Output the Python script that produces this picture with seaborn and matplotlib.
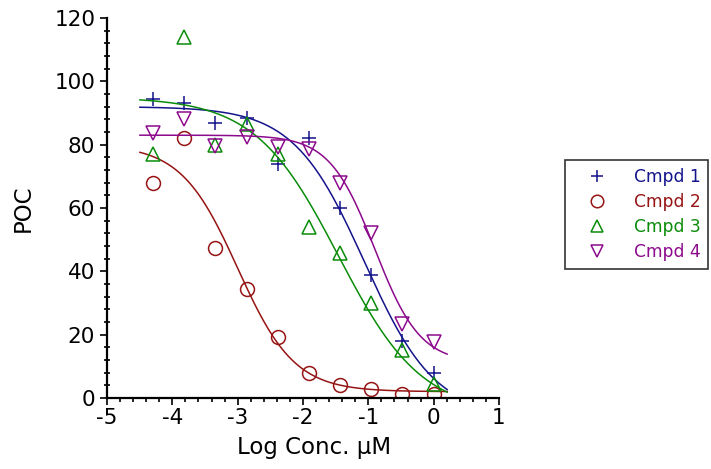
import numpy as np
import matplotlib
matplotlib.use("Agg")
import matplotlib.pyplot as plt
from matplotlib.lines import Line2D
import seaborn as sns

# log concentration (uM) of each dose
log_conc = [-4.294, -3.817, -3.340, -2.863, -2.386, -1.908, -1.431, -0.954, -0.477, 0.0]

# percent of control
cmpd1 = [94.4, 93.1, 86.8, 88.4, 73.9, 82.1, 60.0, 38.8, 18.0, 7.9]
cmpd2 = [67.9, 82.1, 47.4, 34.4, 19.3, 7.9, 4.1, 2.8, 1.3, 1.3]
cmpd3 = [77.2, 114.0, 80.0, 86.5, 77.2, 54.0, 45.8, 30.0, 15.2, 4.4]
cmpd4 = [83.7, 88.1, 79.6, 82.4, 79.3, 78.6, 67.9, 52.1, 23.4, 17.7]

names = ["Cmpd 1", "Cmpd 2", "Cmpd 3", "Cmpd 4"]
colors = ["#14148c", "#961414", "#0a8c0a", "#8c0a8c"]
markers = ["+", "o", "^", "v"]

# 4-parameter logistic fit parameters (estimated from the drawn curves)
fit_top = [92.0, 80.0, 95.0, 83.0]
fit_bottom = [-6.0, 2.0, -5.0, 11.0]
fit_logic50 = [-1.06, -3.0, -1.46, -0.9]
fit_hill = [0.8, 1.0, 0.68, 1.25]
fit_range = [-4.5, 0.21]

sns.set_style("ticks")
plt.rcParams['font.family'] = ['DejaVu Sans']
plt.rcParams['axes.unicode_minus'] = False
plt.rcParams['text.color'] = 'black'
plt.rcParams['axes.labelcolor'] = 'black'

fig = plt.figure(figsize=(7.11, 4.69), dpi=100)
ax = fig.add_axes([0.1505, 0.1514, 0.5513, 0.8102])

xs = np.linspace(fit_range[0], fit_range[1], 200)
series = [cmpd1, cmpd2, cmpd3, cmpd4]
for i, ys in enumerate(series):
    curve = fit_bottom[i] + (fit_top[i] - fit_bottom[i]) / (
        1 + 10 ** ((xs - fit_logic50[i]) * fit_hill[i]))
    sns.lineplot(x=xs, y=curve, ax=ax, color=colors[i], linewidth=1.1,
                 errorbar=None, sort=False)
    sns.lineplot(x=log_conc, y=ys, ax=ax, color=colors[i], marker=markers[i],
                 linestyle='', markersize=10, mfc='none', mec=colors[i],
                 mew=1.1, errorbar=None)

ax.set_xlim(-5, 1)
ax.set_ylim(0, 120)
ax.set_xticks(np.arange(-5, 2, 1))
ax.set_xticks(np.arange(-5, 1.01, 0.2), minor=True)
ax.set_yticks(np.arange(0, 121, 20))
ax.set_yticks(np.arange(0, 121, 4), minor=True)
ax.tick_params(axis='both', which='major', labelsize=15.5, width=1.2,
               length=5, color='black', labelcolor='black')
ax.tick_params(axis='both', which='minor', width=1.2, length=3, color='black')
ax.tick_params(axis='y', which='minor', direction='inout', length=5)
ax.tick_params(axis='x', which='major', pad=2)

for s in ['top', 'right']:
    ax.spines[s].set_visible(False)
for s in ['left', 'bottom']:
    ax.spines[s].set_linewidth(1.6)
    ax.spines[s].set_color('black')

ax.set_xlabel('Log Conc. µM', fontsize=16.5)
ax.set_ylabel('POC', fontsize=16.5, labelpad=14)
ax.xaxis.set_label_coords(0.528, -0.1)

# legend with markers only, coloured text
handles = [Line2D([], [], linestyle='', marker=markers[i], markersize=9,
                  mfc='none', mec=colors[i], mew=1.1) for i in range(4)]
leg = fig.legend(handles, names, loc='upper right',
                 bbox_to_anchor=(0.996, 0.659), bbox_transform=fig.transFigure,
                 borderaxespad=0, fontsize=12.3, frameon=True, fancybox=False,
                 handlelength=2.8, handletextpad=0.75, borderpad=0.45,
                 labelspacing=0.42)
leg.get_frame().set_edgecolor('black')
leg.get_frame().set_linewidth(1.2)
for t, c in zip(leg.get_texts(), colors):
    t.set_color(c)

fig.savefig('out.png', dpi=100)
